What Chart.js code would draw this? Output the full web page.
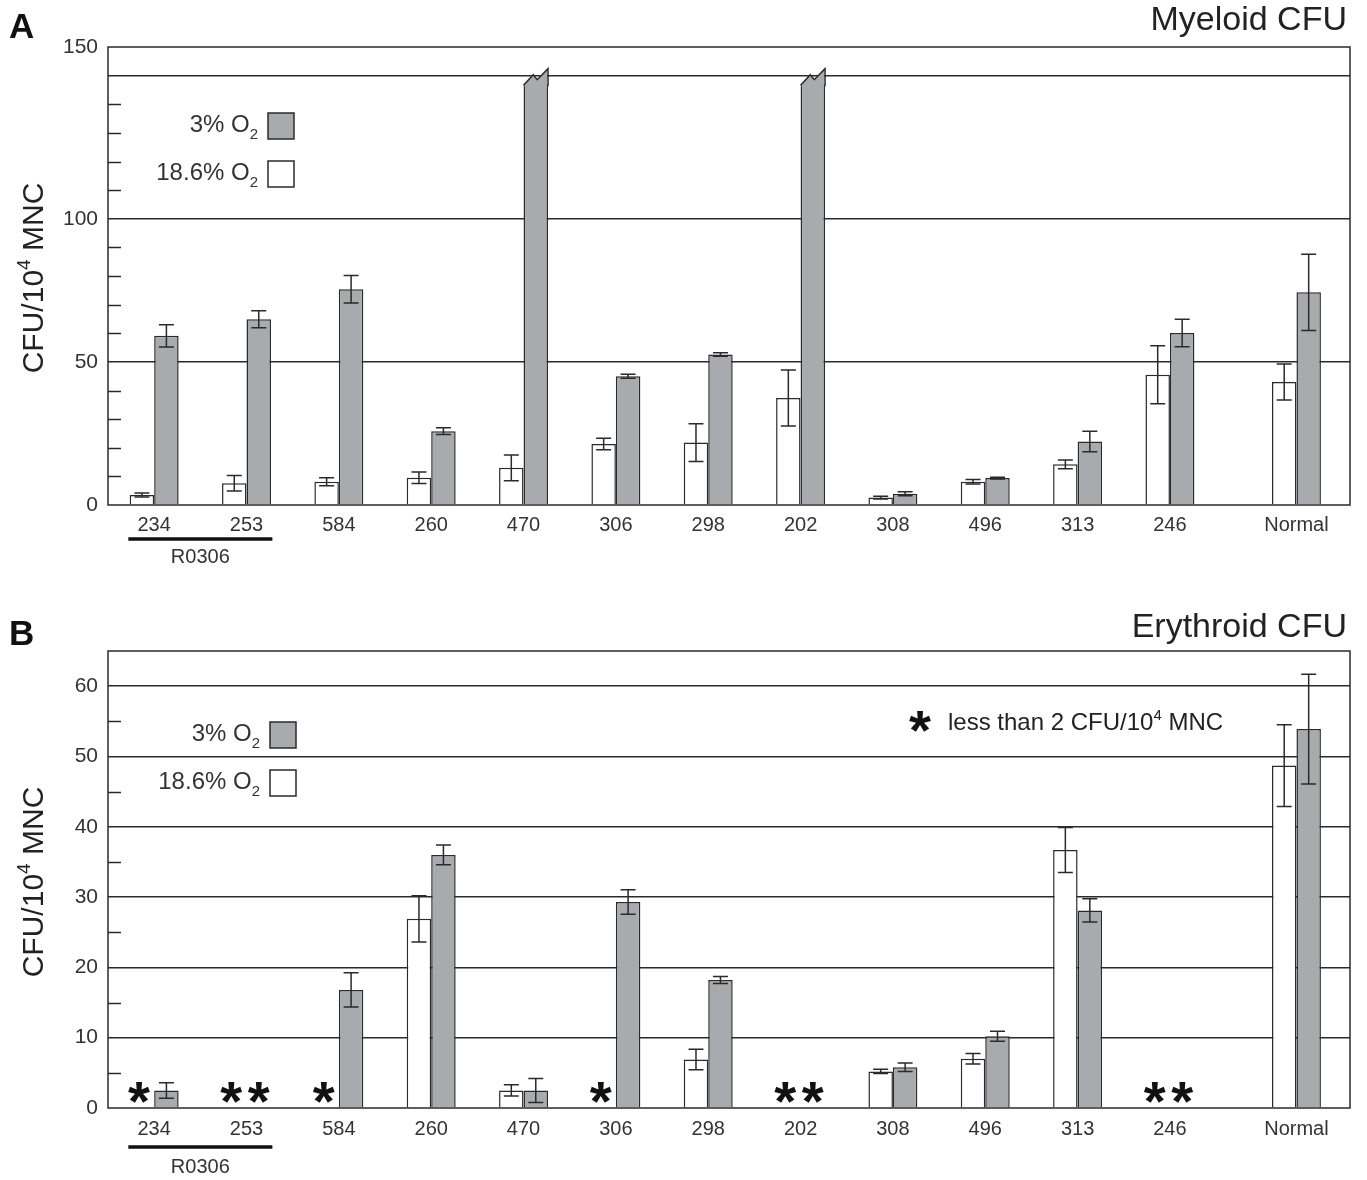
<!DOCTYPE html>
<html lang="en">
<head>
<meta charset="UTF-8">
<title>Myeloid and Erythroid CFU</title>
<script src="https://cdn.jsdelivr.net/npm/chart.js@4.4.1/dist/chart.umd.min.js"></script>
<style>
  body { margin: 0; background: #fff; }
  canvas { display: block; }
</style>
</head>
<body>
<canvas id="chartA" width="1367" height="590"></canvas>
<canvas id="chartB" width="1367" height="590"></canvas>
<script>
const categories = ['234', '253', '584', '260', '470', '306', '298', '202', '308', '496', '313', '246', 'Normal'];
const groupCategories = ['234', '253'];   // underlined as R0306

// A: myeloid CFU / 10^4 MNC
const myeloidAir    = [3.5, 7.6, 8.1, 9.5, 13, 21.3, 21.8, 37.4, 2.6, 8.1, 14.2, 45.5, 43];
const myeloidAirErr = [0.7, 2.7, 1.4, 2, 4.5, 2, 6.6, 9.8, 0.5, 0.8, 1.5, 10.1, 6.3];
const myeloidLow    = [59.1, 64.9, 75.4, 25.8, 147, 45, 52.6, 147, 3.9, 9.4, 22.2, 60.1, 74.3];
const myeloidLowErr = [3.9, 3, 4.8, 1.2, 0, 0.7, 0.6, 0, 0.7, 0.3, 3.6, 4.8, 13.3];
const myeloidOffScale = ['470', '202'];   // bars cut at the axis break

// B: erythroid CFU / 10^4 MNC (null = less than 2, shown as *)
const erythroidAir    = [null, null, null, 26.9, 2.5, null, 6.9, null, 5.2, 7.0, 36.7, null, 48.7];
const erythroidAirErr = [0, 0, 0, 3.3, 0.8, 0, 1.45, 0, 0.3, 0.75, 3.2, 0, 5.8];
const erythroidLow    = [2.5, null, 16.8, 36, 2.5, 29.3, 18.2, null, 5.8, 10.2, 28.1, null, 53.9];
const erythroidLowErr = [1.1, 0, 2.45, 1.4, 1.7, 1.75, 0.5, 0, 0.6, 0.7, 1.65, 0, 7.8];

// y axes
const yTickValuesA = [0, 50, 100, 160];
const yTickLabelsA = ['0', '50', '100', '150'];
const yGridA = [50, 100, 150];
const yTickValuesB = [0, 10, 20, 30, 40, 50, 60];
const yTickLabelsB = ['0', '10', '20', '30', '40', '50', '60'];
const yGridB = [10, 20, 30, 40, 50, 60];

const FONT = '"Liberation Sans", Arial, sans-serif';
const INK = '#2a2a2a';
const GREY = '#a9aaad';
const normalGap = 0.37;   // extra space before the Normal group
const xPos = categories.map((c, i) => i + (c === 'Normal' ? normalGap : 0));

// draw a run of text pieces, some raised or lowered
function drawParts(ctx, parts, x, y, size, align) {
  let total = 0;
  parts.forEach(p => {
    ctx.font = (p.s ? Math.round(size * 0.62) : size) + 'px ' + FONT;
    p.w = ctx.measureText(p.t).width;
    total += p.w;
  });
  let cx = align === 'right' ? x - total : (align === 'center' ? x - total / 2 : x);
  ctx.textAlign = 'left';
  ctx.textBaseline = 'alphabetic';
  parts.forEach(p => {
    ctx.font = (p.s ? Math.round(size * 0.62) : size) + 'px ' + FONT;
    let dy = p.s === 'sup' ? -size * 0.42 : (p.s === 'sub' ? size * 0.3 : 0);
    ctx.fillText(p.t, cx, y + dy);
    cx += p.w;
  });
}

function drawStar(ctx, x, y) {
  ctx.save();
  ctx.font = 'bold 100px ' + FONT;
  let m = ctx.measureText('*');
  let w = m.actualBoundingBoxLeft + m.actualBoundingBoxRight;
  let size = 100 * 22 / w;
  ctx.font = 'bold ' + size + 'px ' + FONT;
  m = ctx.measureText('*');
  let cy = (m.actualBoundingBoxAscent - m.actualBoundingBoxDescent) / 2;
  ctx.textAlign = 'center';
  ctx.textBaseline = 'alphabetic';
  ctx.fillStyle = '#111';
  ctx.fillText('*', x, y + cy);
  ctx.restore();
}

function makeDecor(p) {
  return {
    id: 'decor' + p.letter,
    afterDatasetsDraw(chart) {
      const ctx = chart.ctx;
      const area = chart.chartArea;
      const ys = chart.scales.y, xs = chart.scales.x;
      ctx.save();
      ctx.strokeStyle = INK;
      ctx.lineWidth = 1.5;

      // cut bars
      const metaLow = chart.getDatasetMeta(1);
      p.offScale.forEach(c => {
        const el = metaLow.data[categories.indexOf(c)];
        const L = el.x - el.width / 2, R = el.x + el.width / 2, w = R - L, y0 = el.y;
        ctx.fillStyle = GREY;
        ctx.beginPath();
        ctx.moveTo(L + 0.8, y0 + 2);
        ctx.lineTo(L + 0.8, y0);
        ctx.lineTo(L + 0.4 * w, y0 - 9.5);
        ctx.lineTo(L + 0.56 * w, y0 - 4.5);
        ctx.lineTo(R - 0.8, y0 - 15.5);
        ctx.lineTo(R - 0.8, y0 + 2);
        ctx.closePath();
        ctx.fill();
        ctx.beginPath();
        ctx.moveTo(L, y0 + 1);
        ctx.lineTo(L + 0.4 * w, y0 - 9.5);
        ctx.lineTo(L + 0.56 * w, y0 - 4.5);
        ctx.lineTo(R, y0 - 15.5);
        ctx.lineTo(R, y0 + 2);
        ctx.stroke();
      });

      // error bars and stars
      [[p.air, p.airErr], [p.low, p.lowErr]].forEach((pair, d) => {
        const meta = chart.getDatasetMeta(d);
        pair[0].forEach((v, i) => {
          const x = meta.data[i].x;
          if (v === null) {
            drawStar(ctx, x - (d === 0 ? 3 : 0), ys.getPixelForValue(p.starAt));
            return;
          }
          const e = pair[1][i];
          if (!e) return;
          const y1 = ys.getPixelForValue(v + e), y2 = ys.getPixelForValue(v - e);
          ctx.beginPath();
          ctx.moveTo(x, y1); ctx.lineTo(x, y2);
          ctx.moveTo(x - 7.5, y1); ctx.lineTo(x + 7.5, y1);
          ctx.moveTo(x - 7.5, y2); ctx.lineTo(x + 7.5, y2);
          ctx.stroke();
        });
      });

      // minor ticks
      for (let v = p.minorStep; v < p.yMax; v += p.minorStep) {
        if (p.grid.includes(v)) continue;
        const y = Math.round(ys.getPixelForValue(v)) + 0.5;
        ctx.beginPath();
        ctx.moveTo(area.left, y); ctx.lineTo(area.left + 13, y);
        ctx.stroke();
      }

      // frame
      ctx.strokeRect(area.left, area.top, area.right - area.left, area.bottom - area.top);

      // R0306 bracket
      const slot = xs.getPixelForValue(1) - xs.getPixelForValue(0);
      const gx1 = xs.getPixelForValue(xPos[categories.indexOf(groupCategories[0])]) - 0.28 * slot;
      const gx2 = xs.getPixelForValue(xPos[categories.indexOf(groupCategories[1])]) + 0.28 * slot;
      ctx.lineWidth = 3.5;
      ctx.strokeStyle = '#111';
      ctx.beginPath();
      ctx.moveTo(gx1, area.bottom + p.groupLine); ctx.lineTo(gx2, area.bottom + p.groupLine);
      ctx.stroke();
      ctx.fillStyle = '#333';
      ctx.font = '20px ' + FONT;
      ctx.textAlign = 'center';
      ctx.fillText('R0306', (gx1 + gx2) / 2, area.bottom + p.groupText);

      // letter and title
      ctx.fillStyle = '#111';
      ctx.font = 'bold 35px ' + FONT;
      ctx.textAlign = 'left';
      ctx.fillText(p.letter, 9, p.letterY);
      ctx.fillStyle = '#222';
      ctx.font = '34px ' + FONT;
      ctx.textAlign = 'right';
      ctx.fillText(p.title, 1347, p.titleY);

      // y title
      ctx.save();
      ctx.translate(43, p.yTitleY);
      ctx.rotate(-Math.PI / 2);
      ctx.fillStyle = '#222';
      drawParts(ctx, [{ t: 'CFU/10' }, { t: '4', s: 'sup' }, { t: ' MNC' }], 0, 0, 30, 'center');
      ctx.restore();

      // legend
      const bx = area.left + p.legendX, by = area.top + p.legendY;
      [['3%', GREY], ['18.6%', '#fff']].forEach((it, k) => {
        const top = by + k * 48;
        ctx.fillStyle = it[1];
        ctx.lineWidth = 1.5;
        ctx.strokeStyle = INK;
        ctx.fillRect(bx, top, 26, 26);
        ctx.strokeRect(bx, top, 26, 26);
        ctx.fillStyle = '#333';
        drawParts(ctx, [{ t: it[0] + ' O' }, { t: '2', s: 'sub' }], bx - 10, top + 19, 24, 'right');
      });

      // note
      if (p.note) {
        const ny = ys.getPixelForValue(p.noteAt);
        drawStar(ctx, 920, ny);
        ctx.fillStyle = '#222';
        drawParts(ctx, [{ t: 'less than 2 CFU/10' }, { t: '4', s: 'sup' }, { t: ' MNC' }], 948, ny + 9, 24, 'left');
      }
      ctx.restore();
    }
  };
}

function buildChart(id, p) {
  new Chart(document.getElementById(id), {
    type: 'bar',
    data: {
      datasets: [
        { label: '18.6% O2', data: xPos.map((x, i) => ({ x: x, y: p.air[i] })),
          backgroundColor: '#fff', borderColor: INK, borderWidth: 1.5 },
        { label: '3% O2', data: xPos.map((x, i) => ({ x: x, y: p.low[i] })),
          backgroundColor: GREY, borderColor: INK, borderWidth: 1.5 }
      ]
    },
    options: {
      responsive: false,
      animation: false,
      layout: { padding: { left: 0, right: 17, top: p.top, bottom: 0 } },
      datasets: { bar: { barPercentage: 1, categoryPercentage: 0.53 } },
      scales: {
        x: {
          type: 'linear', min: -0.5, max: 12.95, offset: false,
          grid: { display: false, drawTicks: false, offset: false },
          border: { display: false },
          afterBuildTicks: s => { s.ticks = xPos.map(v => ({ value: v })); },
          ticks: { autoSkip: false, maxRotation: 0, padding: p.xPad, color: '#333',
                   font: { family: FONT, size: 20 }, callback: (v, i) => categories[i] },
          afterFit: s => { s.height = p.xAxisH; }
        },
        y: {
          min: 0, max: p.yMax,
          afterBuildTicks: s => {
            const t = [];
            for (let v = 0; v <= p.yMax; v += p.minorStep) t.push({ value: v });
            s.ticks = t;
          },
          grid: { drawTicks: false, lineWidth: 1.5,
                  color: c => p.grid.includes(c.tick.value) ? INK : 'rgba(0,0,0,0)' },
          border: { display: false },
          ticks: { padding: 10, color: '#333', font: { family: FONT, size: 21 },
                   callback: v => { const k = p.tickValues.indexOf(v); return k < 0 ? '' : p.tickLabels[k]; } },
          afterFit: s => { s.width = 108; }
        }
      },
      plugins: { legend: { display: false }, tooltip: { enabled: false } }
    },
    plugins: [makeDecor(p)]
  });
}

buildChart('chartA', {
  letter: 'A', title: 'Myeloid CFU', letterY: 38, titleY: 30, yTitleY: 278,
  air: myeloidAir, airErr: myeloidAirErr, low: myeloidLow, lowErr: myeloidLowErr,
  offScale: myeloidOffScale, yMax: 160, minorStep: 10, grid: yGridA,
  tickValues: yTickValuesA, tickLabels: yTickLabelsA,
  top: 47, xAxisH: 85, xPad: 8, groupLine: 34, groupText: 58,
  legendX: 160, legendY: 66, starAt: 2.2, note: false
});

buildChart('chartB', {
  letter: 'B', title: 'Erythroid CFU', letterY: 55, titleY: 47, yTitleY: 292,
  air: erythroidAir, airErr: erythroidAirErr, low: erythroidLow, lowErr: erythroidLowErr,
  offScale: [], yMax: 65, minorStep: 5, grid: yGridB,
  tickValues: yTickValuesB, tickLabels: yTickLabelsB,
  top: 61, xAxisH: 72, xPad: 9, groupLine: 39, groupText: 65,
  legendX: 162, legendY: 71, starAt: 2.2, note: true, noteAt: 55
});
</script>
</body>
</html>
